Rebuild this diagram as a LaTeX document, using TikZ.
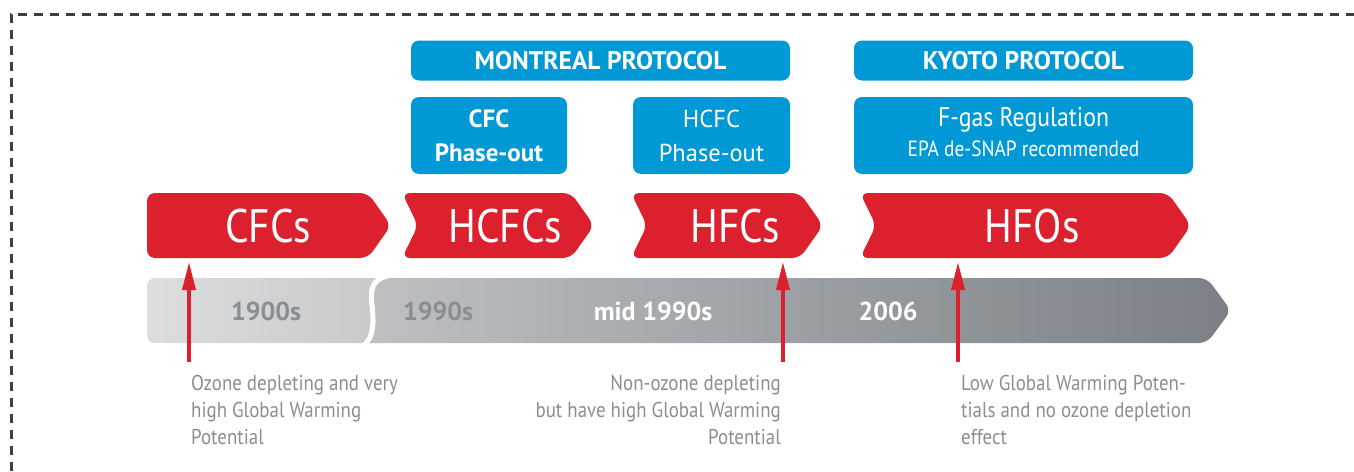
\documentclass[tikz,border=0pt]{standalone}
\usepackage{fontspec}
\setmainfont{PT Sans}[FakeStretch=0.88]
\newfontfamily\headfont{PT Sans}
\usetikzlibrary{arrows.meta}
\definecolor{chevred}{HTML}{DC202E}
\definecolor{protblue}{HTML}{0099D6}
\definecolor{lightA}{HTML}{DCDDDF}
\definecolor{lightB}{HTML}{C7C8CA}
\definecolor{darkA}{HTML}{BEC0C2}
\definecolor{darkB}{HTML}{7A8086}
\definecolor{notegray}{HTML}{8A8E93}
\definecolor{border}{HTML}{3F3F3F}
\begin{document}
\begin{tikzpicture}[x=1pt,y=-1pt,
    protbox/.style={fill=protblue,rounded corners=8pt,text=white,align=center,inner sep=0pt},
    chevlabel/.style={text=white,font=\fontsize{47}{47}\selectfont},
    yearlabel/.style={font=\headfont\fontsize{26}{26}\selectfont\bfseries},
    note/.style={text=notegray,align=left,inner sep=0pt,font=\fontsize{21.5}{27}\selectfont},
    pointer/.style={chevred,line width=3.5pt,-{Triangle[width=13pt,length=28pt]}}]
  \useasboundingbox (0,0) rectangle (1354,471);
  \draw[border,line width=3pt,dash pattern=on 9pt off 7pt] (11,471) -- (11,14) -- (1354,14);
  % protocol boxes
  \node[protbox,minimum width=379,minimum height=40,font=\headfont\fontsize{25.5}{25.5}\selectfont\bfseries]
    (montreal) at (600.5,60.5) {MONTREAL PROTOCOL};
  \node[protbox,minimum width=339,minimum height=40,font=\headfont\fontsize{25.5}{25.5}\selectfont\bfseries]
    (kyoto) at (1023.5,60.5) {KYOTO PROTOCOL};
  \node[protbox,minimum width=156,minimum height=77,font=\headfont\fontsize{25}{34}\selectfont\bfseries]
    (cfcout) at (489,135.5) {CFC\\Phase-out};
  \node[protbox,minimum width=157,minimum height=77,font=\headfont\fontsize{24.5}{34}\selectfont]
    (hcfcout) at (711.5,135.5) {HCFC\\Phase-out};
  \node[protbox,minimum width=339,minimum height=77] (fgas) at (1023.5,135.5) {};
  \node[text=white,align=center,font=\fontsize{27}{30}\selectfont]
    (fgastext) at (1023.5,132) {F-gas Regulation\\{\fontsize{22}{22}\selectfont EPA de-SNAP recommended}};
  % refrigerant chevrons
  \fill[chevred,rounded corners=8pt] (147,193) -- (368,193) -- (391,225.5) -- (368,258) -- (147,258) -- cycle;
  \foreach \a/\b in {402/594,631/823,860/1191}
    \fill[chevred,rounded corners=8pt] (\a,193) -- ({\b-23},193) -- (\b,225.5) -- ({\b-23},258)
      -- (\a,258) -- ({\a+16},225.5) -- cycle;
  \node[chevlabel] (cfcs) at (268,226) {CFCs};
  \node[chevlabel] (hcfcs) at (505,226) {HCFCs};
  \node[chevlabel] (hfcs) at (735,226) {HFCs};
  \node[chevlabel] (hfos) at (1032,226) {HFOs};
  % time bar
  \shade[left color=lightA,right color=lightB,rounded corners=8pt] (147,278) rectangle (392,343);
  \shade[left color=darkA,right color=darkB] (372,305) .. controls (370,290) and (372,279) .. (386,278)
    [rounded corners=8pt] -- (1207,278) -- (1231,310.5) -- (1207,343) [sharp corners] -- (364,343)
    .. controls (374,338) and (374,322) .. (372,305) -- cycle;
  \draw[white,line width=5pt] (388,276) .. controls (372,279) and (370,290) .. (372,305)
    .. controls (374,322) and (374,338) .. (363,346);
  \node[yearlabel,text=notegray] (y1900) at (266,311) {1900s};
  \node[yearlabel,text=notegray] (y1990) at (438,311) {1990s};
  \node[yearlabel,text=white] (ymid) at (653,311) {mid 1990s};
  \node[yearlabel,text=white] (y2006) at (888,311) {2006};
  % arrows and notes
  \coordinate (cfcfoot) at (189,362);
  \coordinate (cfctip) at (189,262);
  \coordinate (hfcfoot) at (783,362);
  \coordinate (hfctip) at (783,262);
  \coordinate (hfofoot) at (958,362);
  \coordinate (hfotip) at (958,262);
  \draw[pointer] (cfcfoot) -- (cfctip);
  \draw[pointer] (hfcfoot) -- (hfctip);
  \draw[pointer] (hfofoot) -- (hfotip);
  \node[note,anchor=north west] (cfcnote) at (191,375) {Ozone depleting and very\\high Global Warming\\Potential};
  \node[note,anchor=north east,align=right] (hfcnote) at (781,375) {Non-ozone depleting\\but have high Global Warming\\Potential};
  \node[note,anchor=north west] (hfonote) at (961,375) {Low Global Warming Poten-\\tials and no ozone depletion\\effect};
\end{tikzpicture}
\end{document}
